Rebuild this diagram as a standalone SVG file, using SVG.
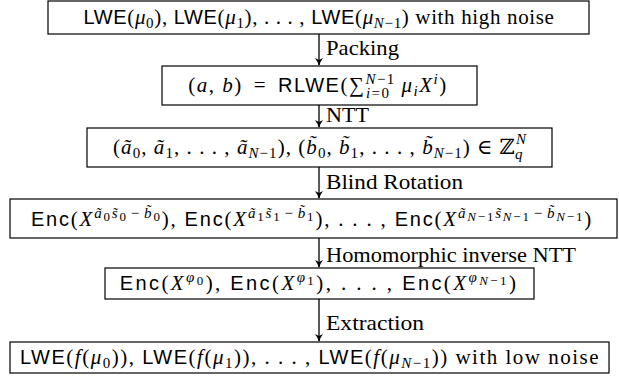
<svg xmlns="http://www.w3.org/2000/svg" width="619" height="377" viewBox="0 0 619 377">
<style>
.box{fill:#fff;stroke:#000;stroke-width:1.2}
.t{font-family:"Liberation Serif","DejaVu Serif",serif;font-size:21px;fill:#000}
.sf{font-family:"Liberation Sans","DejaVu Sans",sans-serif;font-size:20px}
.it{font-style:italic}
.s{font-size:15px}
.ss{font-size:13px}
.lbl{font-family:"Liberation Serif","DejaVu Serif",serif;font-size:22px;fill:#000}
.arr{stroke:#000;stroke-width:1.3;fill:none;marker-end:url(#ah)}
</style>
<defs>
<marker id="ah" markerWidth="10" markerHeight="10" refX="7" refY="5" orient="auto" markerUnits="userSpaceOnUse">
<path d="M0,1 Q4,4 8,5 Q4,6 0,9 L2,5 Z" fill="#000"/>
</marker>
</defs>
<g id="connectors">
<line class="arr" x1="319" y1="34" x2="319" y2="65"/>
<line class="arr" x1="319" y1="105" x2="319" y2="127"/>
<line class="arr" x1="319" y1="167" x2="319" y2="198"/>
<line class="arr" x1="319" y1="238" x2="319" y2="267"/>
<line class="arr" x1="319" y1="299" x2="319" y2="341"/>
<text class="lbl" x="326" y="55" textLength="73" lengthAdjust="spacingAndGlyphs">Packing</text>
<text class="lbl" x="326" y="122" textLength="43" lengthAdjust="spacingAndGlyphs">NTT</text>
<text class="lbl" x="326" y="189" textLength="137" lengthAdjust="spacingAndGlyphs">Blind Rotation</text>
<text class="lbl" x="326" y="262" textLength="250" lengthAdjust="spacingAndGlyphs">Homomorphic inverse NTT</text>
<text class="lbl" x="326" y="330" textLength="98" lengthAdjust="spacingAndGlyphs">Extraction</text>
</g>
<g id="n1">
<rect class="box" x="48" y="1" width="541" height="33"/>
<text class="t" x="319" y="24" text-anchor="middle" style="letter-spacing:0.65px"><tspan class="sf">LWE</tspan>(<tspan class="it">μ</tspan><tspan class="s" dy="4">0</tspan><tspan dy="-4">), </tspan><tspan class="sf">LWE</tspan>(<tspan class="it">μ</tspan><tspan class="s" dy="4">1</tspan><tspan dy="-4">), . . . , </tspan><tspan class="sf">LWE</tspan>(<tspan class="it">μ</tspan><tspan class="s" dy="4"><tspan class="it">N</tspan>−1</tspan><tspan dy="-4">) with high noise</tspan></text>
</g>
<g id="n2">
<rect class="box" x="162" y="66" width="315" height="39"/>
<text class="t" x="318" y="92" text-anchor="middle" style="letter-spacing:1.5px">(<tspan class="it">a</tspan>, <tspan class="it">b</tspan>)<tspan dx="11">=</tspan><tspan class="sf" dx="11">RLWE</tspan>(∑<tspan class="s" dy="-8"><tspan class="it">N</tspan>−1</tspan><tspan class="s" dx="-30" dy="14"><tspan class="it">i</tspan>=0</tspan><tspan dx="11" dy="-6" class="it">μ</tspan><tspan class="s it" dy="4">i</tspan><tspan class="it" dy="-4">X</tspan><tspan class="s it" dy="-8">i</tspan><tspan dy="8">)</tspan></text>
</g>
<g id="n3">
<rect class="box" x="87" y="128" width="465" height="39"/>
<text class="t" x="320" y="154" text-anchor="middle" style="letter-spacing:1.05px">(<tspan class="it">ã</tspan><tspan class="s" dy="4">0</tspan><tspan dy="-4">, </tspan><tspan class="it">ã</tspan><tspan class="s" dy="4">1</tspan><tspan dy="-4">, . . . , </tspan><tspan class="it">ã</tspan><tspan class="s" dy="4"><tspan class="it">N</tspan>−1</tspan><tspan dy="-4">), (</tspan><tspan class="it">b̃</tspan><tspan class="s" dy="4">0</tspan><tspan dy="-4">, </tspan><tspan class="it">b̃</tspan><tspan class="s" dy="4">1</tspan><tspan dy="-4">, . . . , </tspan><tspan class="it">b̃</tspan><tspan class="s" dy="4"><tspan class="it">N</tspan>−1</tspan><tspan dy="-4">)</tspan><tspan dx="6">∈</tspan><tspan dx="6">ℤ</tspan><tspan class="s it" dy="-10">N</tspan><tspan class="s it" dx="-12" dy="15">q</tspan></text>
</g>
<g id="n4">
<rect class="box" x="10" y="199" width="607" height="39"/>
<text class="t" x="312" y="226" text-anchor="middle" style="letter-spacing:1.8px"><tspan class="sf">Enc</tspan>(<tspan class="it">X</tspan><tspan class="s it" dy="-8">ã</tspan><tspan class="ss" dy="3">0</tspan><tspan class="s it" dy="-3">s̃</tspan><tspan class="ss" dy="3">0</tspan><tspan class="s" dy="-3" dx="3">−</tspan><tspan class="s it" dx="3">b̃</tspan><tspan class="ss" dy="3">0</tspan><tspan dy="5">), </tspan><tspan class="sf">Enc</tspan>(<tspan class="it">X</tspan><tspan class="s it" dy="-8">ã</tspan><tspan class="ss" dy="3">1</tspan><tspan class="s it" dy="-3">s̃</tspan><tspan class="ss" dy="3">1</tspan><tspan class="s" dy="-3" dx="3">−</tspan><tspan class="s it" dx="3">b̃</tspan><tspan class="ss" dy="3">1</tspan><tspan dy="5">), . . . , </tspan><tspan class="sf">Enc</tspan>(<tspan class="it">X</tspan><tspan class="s it" dy="-8">ã</tspan><tspan class="ss" dy="3"><tspan class="it">N</tspan>−1</tspan><tspan class="s it" dy="-3">s̃</tspan><tspan class="ss" dy="3"><tspan class="it">N</tspan>−1</tspan><tspan class="s" dy="-3" dx="3">−</tspan><tspan class="s it" dx="3">b̃</tspan><tspan class="ss" dy="3"><tspan class="it">N</tspan>−1</tspan><tspan dy="5">)</tspan></text>
</g>
<g id="n5">
<rect class="box" x="105" y="268" width="429" height="31"/>
<text class="t" x="319" y="290" text-anchor="middle" style="letter-spacing:2.4px"><tspan class="sf">Enc</tspan>(<tspan class="it">X</tspan><tspan class="s it" dy="-8">φ</tspan><tspan class="ss" dy="3">0</tspan><tspan dy="5">), </tspan><tspan class="sf">Enc</tspan>(<tspan class="it">X</tspan><tspan class="s it" dy="-8">φ</tspan><tspan class="ss" dy="3">1</tspan><tspan dy="5">), . . . , </tspan><tspan class="sf">Enc</tspan>(<tspan class="it">X</tspan><tspan class="s it" dy="-8">φ</tspan><tspan class="ss" dy="3"><tspan class="it">N</tspan>−1</tspan><tspan dy="5">)</tspan></text>
</g>
<g id="n6">
<rect class="box" x="10" y="342" width="599" height="31"/>
<text class="t" x="310" y="364" text-anchor="middle" style="letter-spacing:1.5px"><tspan class="sf">LWE</tspan>(<tspan class="it">f</tspan>(<tspan class="it">μ</tspan><tspan class="s" dy="4">0</tspan><tspan dy="-4">)), </tspan><tspan class="sf">LWE</tspan>(<tspan class="it">f</tspan>(<tspan class="it">μ</tspan><tspan class="s" dy="4">1</tspan><tspan dy="-4">)), . . . , </tspan><tspan class="sf">LWE</tspan>(<tspan class="it">f</tspan>(<tspan class="it">μ</tspan><tspan class="s" dy="4"><tspan class="it">N</tspan>−1</tspan><tspan dy="-4">)) with low noise</tspan></text>
</g>
</svg>
